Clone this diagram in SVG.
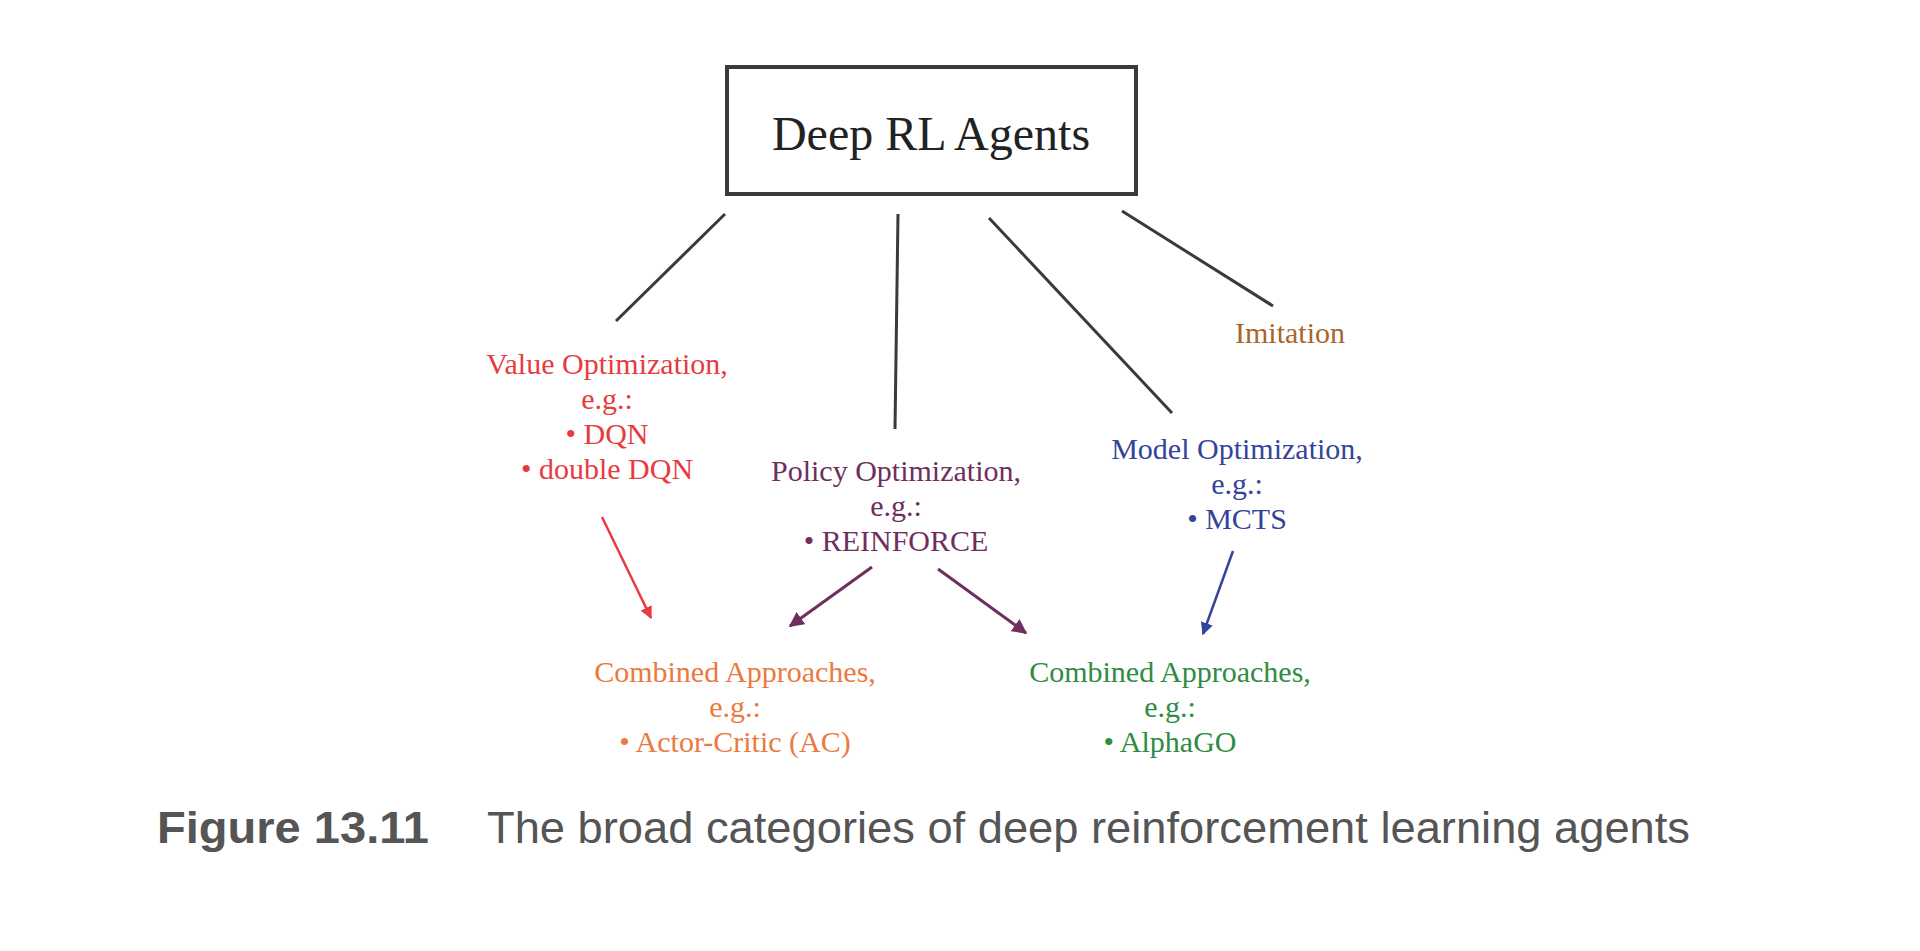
<svg xmlns="http://www.w3.org/2000/svg" width="1920" height="951" viewBox="0 0 1920 951">
<style>
.lbl{font-family:"Liberation Serif","Times New Roman",serif;font-size:30px;text-anchor:middle}
.red{fill:#e63c3f}.pur{fill:#6e2f5e}.blu{fill:#34449a}.brn{fill:#a8652f}.org{fill:#ea7a40}.grn{fill:#2f8c43}
.cap{font-family:"Liberation Sans",Arial,sans-serif;font-size:44px;fill:#555555}
.edge{stroke:#3a3a3a;stroke-width:3;fill:none}
</style>
<defs>
<marker id="ahR" viewBox="0 0 10 10" refX="9" refY="5" markerWidth="5" markerHeight="5" orient="auto"><path d="M0,0L10,5L0,10z" fill="#e63c3f"/></marker>
<marker id="ahP" viewBox="0 0 10 10" refX="9" refY="5" markerWidth="5" markerHeight="5" orient="auto"><path d="M0,0L10,5L0,10z" fill="#6e2f5e"/></marker>
<marker id="ahB" viewBox="0 0 10 10" refX="9" refY="5" markerWidth="5" markerHeight="5" orient="auto"><path d="M0,0L10,5L0,10z" fill="#34449a"/></marker>
</defs>
<rect width="1920" height="951" fill="#ffffff"/>
<g id="connectors">
<line class="edge" x1="725" y1="214" x2="616" y2="321"/>
<line class="edge" x1="898" y1="214" x2="895" y2="429"/>
<line class="edge" x1="989" y1="218" x2="1172" y2="413"/>
<line class="edge" x1="1122" y1="211" x2="1273" y2="306"/>
<line x1="602" y1="517" x2="651" y2="618" stroke="#e63c3f" stroke-width="2.5" marker-end="url(#ahR)"/>
<line x1="872" y1="567" x2="790" y2="626" stroke="#6e2f5e" stroke-width="3" marker-end="url(#ahP)"/>
<line x1="938" y1="569" x2="1026" y2="633" stroke="#6e2f5e" stroke-width="3" marker-end="url(#ahP)"/>
<line x1="1233" y1="551" x2="1203" y2="634" stroke="#34449a" stroke-width="2.5" marker-end="url(#ahB)"/>
</g>
<g id="root">
<rect x="727" y="67" width="409" height="127" fill="#ffffff" stroke="#3a3a3a" stroke-width="4"/>
<text x="931" y="150" font-family="Liberation Serif,'Times New Roman',serif" font-size="48" text-anchor="middle" fill="#222222">Deep RL Agents</text>
</g>
<g id="value">
<text class="lbl red" x="607" y="374">Value Optimization,</text>
<text class="lbl red" x="607" y="409">e.g.:</text>
<text class="lbl red" x="607" y="444">• DQN</text>
<text class="lbl red" x="607" y="479">• double DQN</text>
</g>
<g id="policy">
<text class="lbl pur" x="896" y="481">Policy Optimization,</text>
<text class="lbl pur" x="896" y="516">e.g.:</text>
<text class="lbl pur" x="896" y="551">• REINFORCE</text>
</g>
<g id="model">
<text class="lbl blu" x="1237" y="459">Model Optimization,</text>
<text class="lbl blu" x="1237" y="494">e.g.:</text>
<text class="lbl blu" x="1237" y="529">• MCTS</text>
</g>
<g id="imitation">
<text class="lbl brn" x="1290" y="343">Imitation</text>
</g>
<g id="combined-ac">
<text class="lbl org" x="735" y="682">Combined Approaches,</text>
<text class="lbl org" x="735" y="717">e.g.:</text>
<text class="lbl org" x="735" y="752">• Actor-Critic (AC)</text>
</g>
<g id="combined-alphago">
<text class="lbl grn" x="1170" y="682">Combined Approaches,</text>
<text class="lbl grn" x="1170" y="717">e.g.:</text>
<text class="lbl grn" x="1170" y="752">• AlphaGO</text>
</g>
<g id="caption">
<text class="cap" x="157" y="843" font-weight="bold" textLength="272" lengthAdjust="spacingAndGlyphs">Figure 13.11</text>
<text class="cap" x="487" y="843" textLength="1203" lengthAdjust="spacingAndGlyphs">The broad categories of deep reinforcement learning agents</text>
</g>
</svg>
